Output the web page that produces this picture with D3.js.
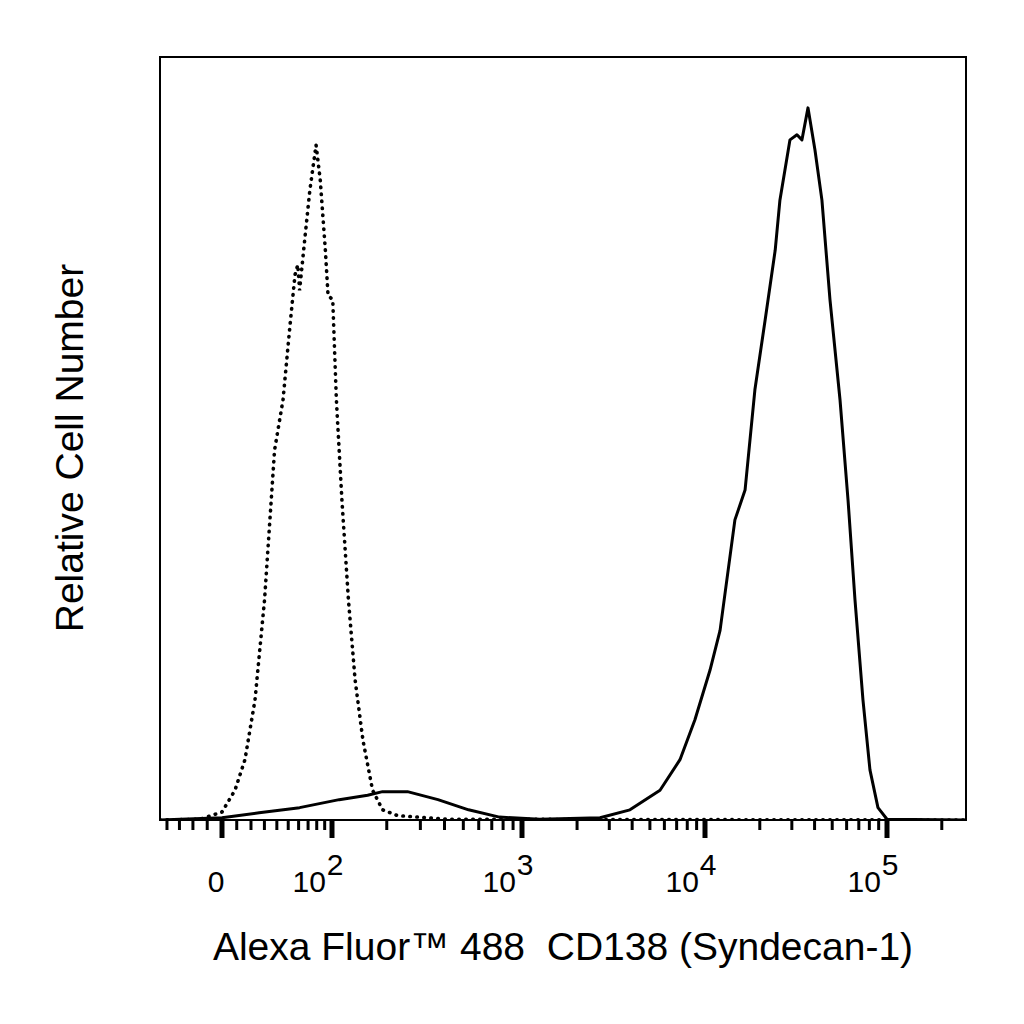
<!DOCTYPE html>
<html><head><meta charset="utf-8">
<script src="https://cdn.jsdelivr.net/npm/d3@7"></script>
<style>body{margin:0;background:#fff}text{font-family:"Liberation Sans",Arial,sans-serif}</style>
</head><body><div id="chart"></div>
<script>
// fluorescence values and relative counts
var stainedX = [-46,0,26,61,110,158,190,257,370,532,766,1250,2670,3890,5680,7300,8810,10650,12100,14600,16600,18800,21400,24300,25800,29300,32000,34100,36800,40200,43900,48600,55200,61100,66700,73800,80600,89200,100000,270000];
var stainedY = [0,0.3,1.0,1.7,2.8,3.4,3.9,3.9,2.8,1.4,0.4,0.1,0.3,1.4,4.1,8.3,13.8,20.6,26.1,41.3,45.4,59.2,68.8,78.4,85.3,93.6,94.3,93.6,98.0,92.2,85.3,71.6,57.8,44.0,30.3,16.5,6.9,1.7,0.1,0];
var isoX = [-46,-15,0,8.8,15.7,22.9,30.1,38.1,45.3,51.2,56.4,59.2,61,66.3,72,79.2,84.3,90.9,94.5,101,106,114,124,135,149,168,190,228,417,270000];
var isoY = [0,0.1,1.1,4.1,8.3,16.5,30.3,50.9,57.8,67.4,75.0,76.4,72.9,79.8,86.7,92.9,88.1,78.4,72.2,71.6,57.8,44.0,30.3,19.3,11.0,4.1,1.4,0.6,0.1,0];
var majorTicks = [0,100,1000,10000,100000];
var majorLabels = ["0","10|2","10|3","10|4","10|5"];
var minorTicks = [-40,-30,-20,-10,10,20,30,40,50,60,70,80,90,200,300,400,500,600,700,800,900,
  2000,3000,4000,5000,6000,7000,8000,9000,20000,30000,40000,50000,60000,70000,80000,90000,200000];

var W = 1024, H = 1024;
var box = {l:160, r:966, t:57, b:820};
var svg = d3.select("#chart").append("svg").attr("width",W).attr("height",H);

// biexponential-like display: asinh transform then piecewise-linear placement
function f(v){ return Math.asinh(v/54)/Math.LN10; }
var xt = d3.scaleLinear()
  .domain([f(-46), f(0), f(100), f(1000), f(10000), f(100000)])
  .range([box.l, 222, 332, 522, 705, 887]);
function x(v){ return xt(f(v)); }
var y = d3.scaleLinear().domain([0,105]).range([box.b, box.t]);

svg.append("rect").attr("x",box.l).attr("y",box.t)
  .attr("width",box.r-box.l).attr("height",box.b-box.t)
  .attr("fill","none").attr("stroke","#000").attr("stroke-width",2);

var g = svg.append("g").attr("clip-path","url(#clip)");
svg.append("clipPath").attr("id","clip").append("rect")
  .attr("x",box.l).attr("y",box.t).attr("width",box.r-box.l).attr("height",box.b-box.t);

var line = d3.line().x(function(d){return x(d[0]);}).y(function(d){return y(d[1]);});

g.append("path").datum(d3.zip(isoX, isoY)).attr("d", line)
  .attr("fill","none").attr("stroke","#000").attr("stroke-width",3.6)
  .attr("stroke-dasharray","0.5,6.5").attr("stroke-linecap","round");
g.append("path").datum(d3.zip(stainedX, stainedY)).attr("d", line)
  .attr("fill","none").attr("stroke","#000").attr("stroke-width",3)
  .attr("stroke-linejoin","round");

// ticks below the frame
svg.selectAll(".minor").data(minorTicks).enter().append("line")
  .attr("x1",function(d){return x(d);}).attr("x2",function(d){return x(d);})
  .attr("y1",box.b).attr("y2",box.b+10).attr("stroke","#000").attr("stroke-width",3);
svg.selectAll(".major").data(majorTicks).enter().append("line")
  .attr("x1",function(d){return x(d);}).attr("x2",function(d){return x(d);})
  .attr("y1",box.b).attr("y2",box.b+18).attr("stroke","#000").attr("stroke-width",5);

var lab = svg.selectAll(".lab").data(majorTicks).enter().append("text")
  .attr("x",function(d){return x(d) - (d===0 ? 6 : 14);}).attr("y",892)
  .attr("text-anchor","middle").attr("font-size",30);
lab.each(function(d,i){
  var p = majorLabels[i].split("|");
  var t = d3.select(this);
  t.append("tspan").text(p[0]);
  if (p[1]) t.append("tspan").attr("dy",-17).attr("dx",1).text(p[1]);
});

svg.append("text").attr("x",563).attr("y",960).attr("text-anchor","middle")
  .attr("font-size",39).text("Alexa Fluor\u2122 488\u00a0 CD138 (Syndecan-1)");
svg.append("text").attr("transform","translate(83,448) rotate(-90)")
  .attr("text-anchor","middle").attr("font-size",39).text("Relative Cell Number");
</script></body></html>
